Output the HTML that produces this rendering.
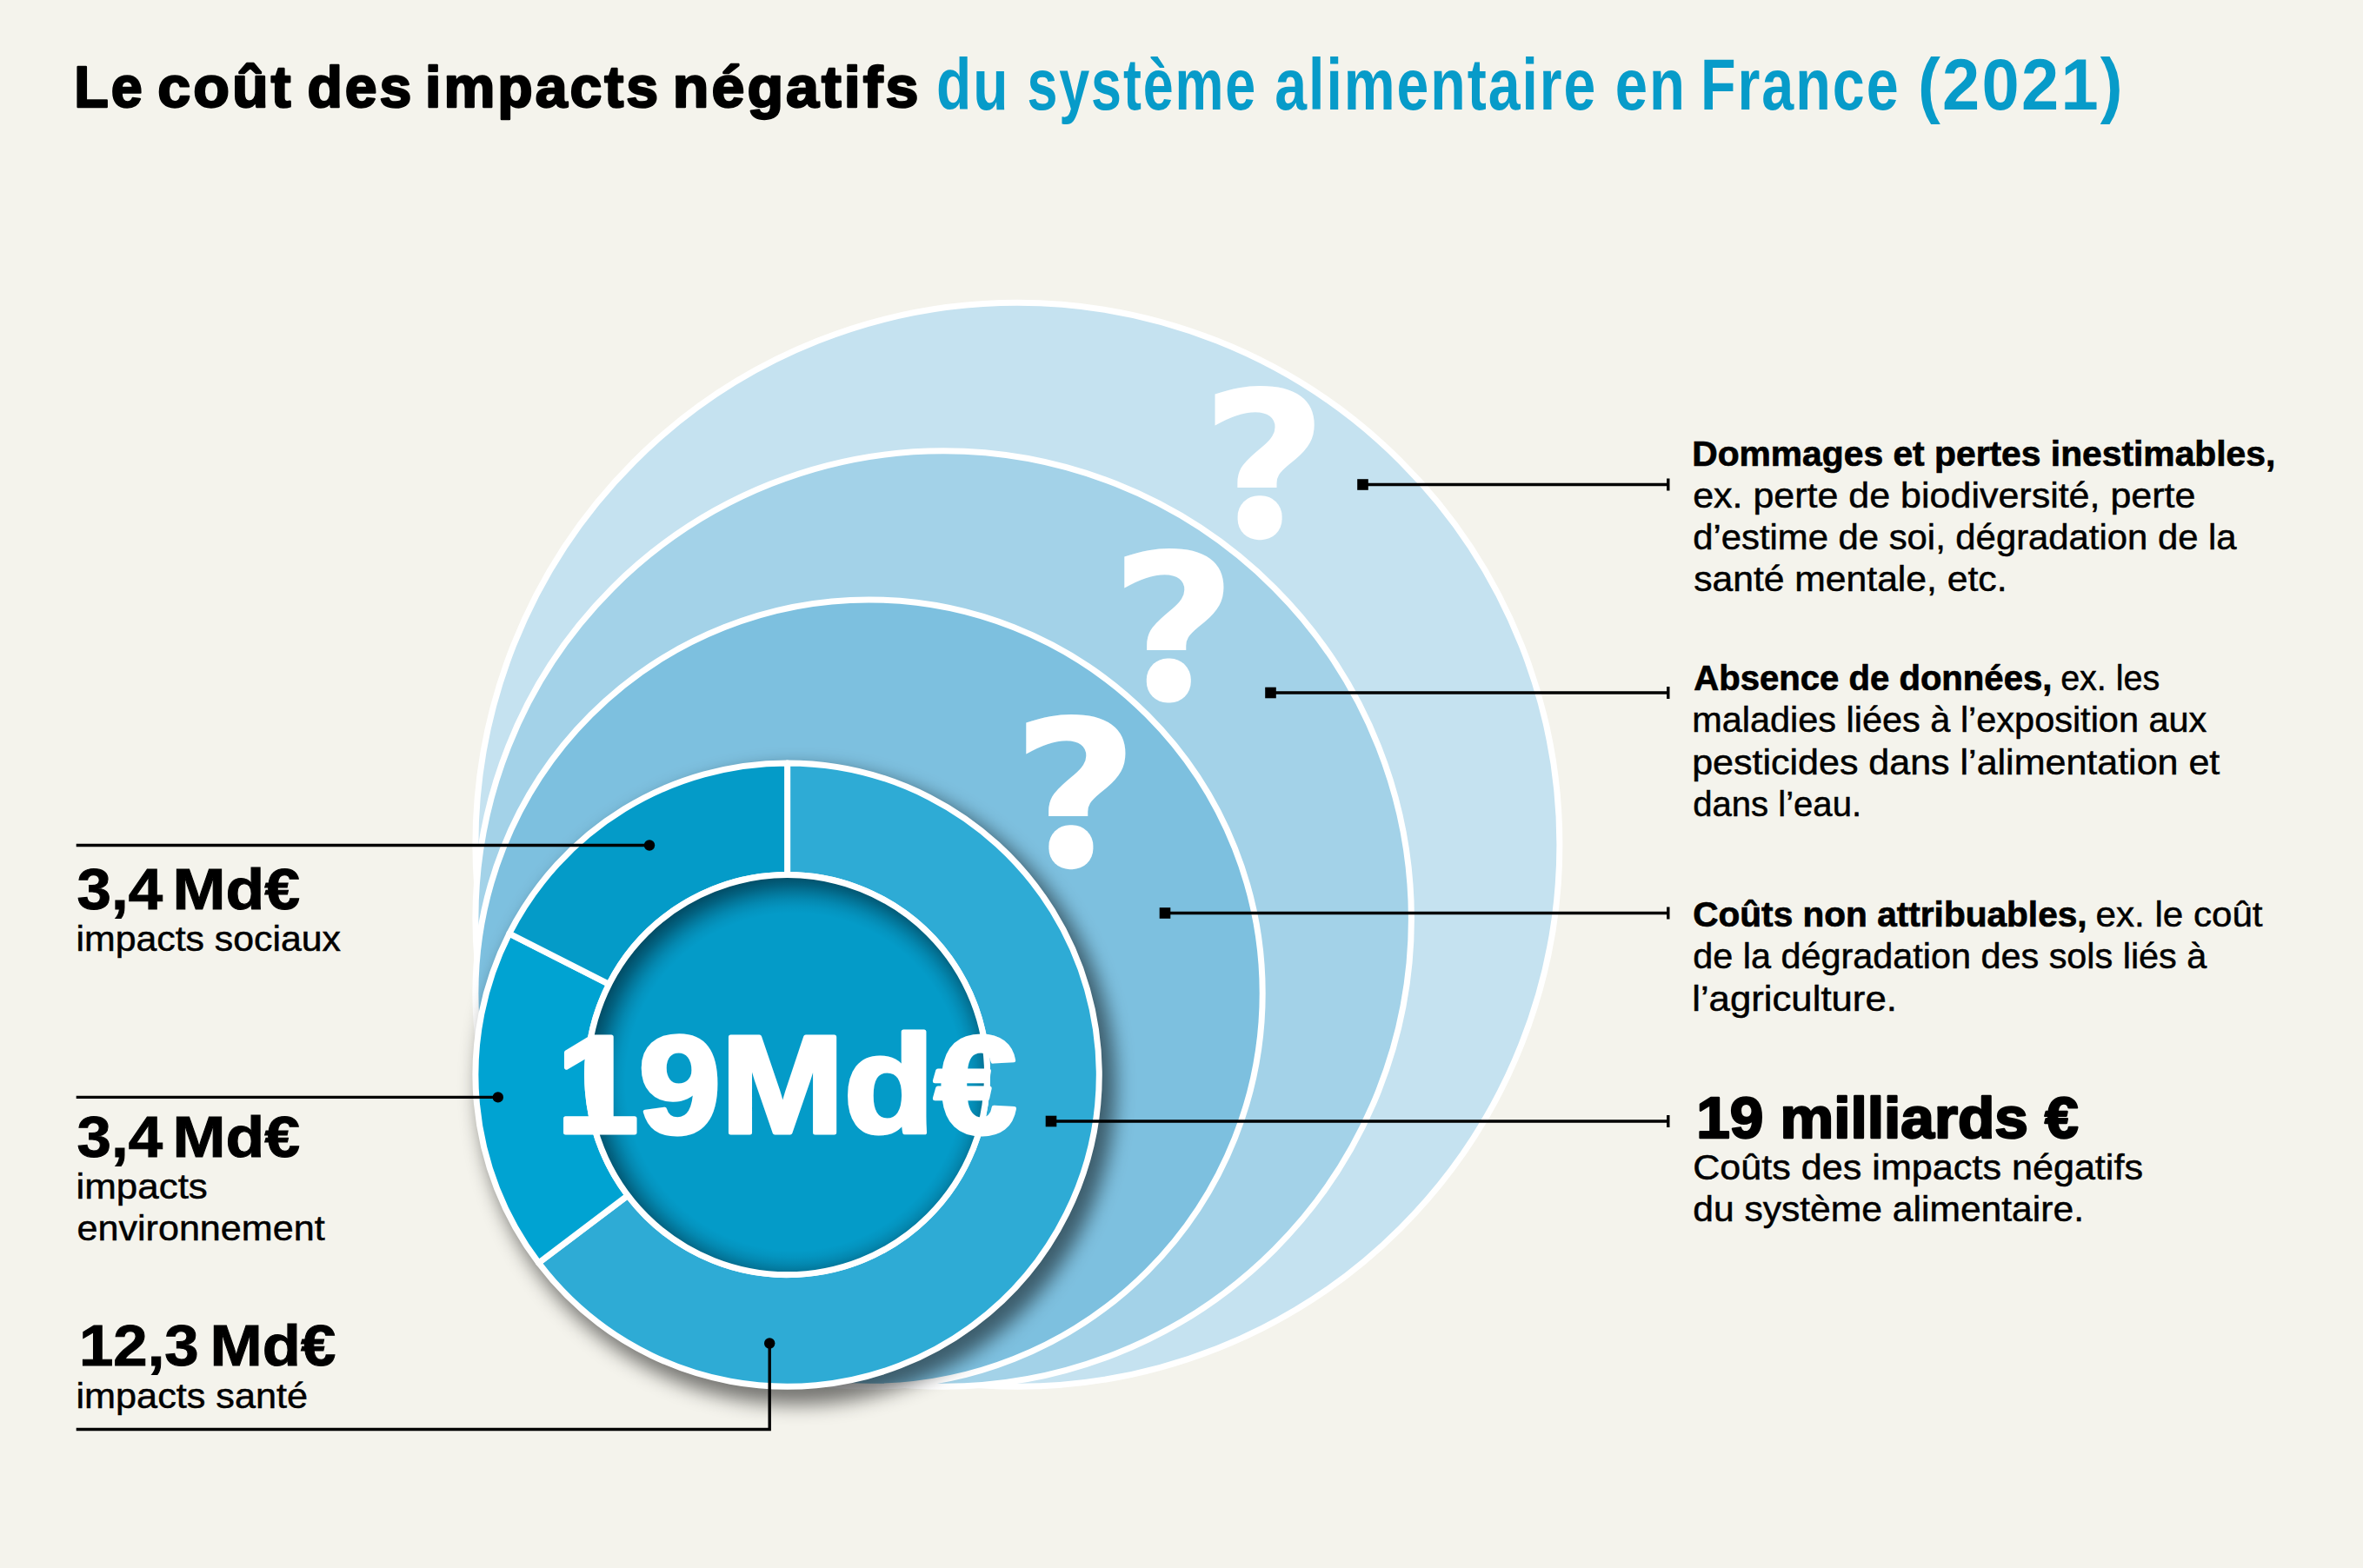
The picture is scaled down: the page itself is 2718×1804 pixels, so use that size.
<!DOCTYPE html>
<html lang="fr"><head><meta charset="utf-8"><title>Le coût des impacts négatifs du système alimentaire en France (2021)</title>
<style>
html,body{margin:0;padding:0;background:#f4f3ec;}
body{width:2718px;height:1804px;overflow:hidden;}
svg{display:block;}
text{font-family:"Liberation Sans",sans-serif;}
.b{font-weight:bold;}
.q{font-family:"DejaVu Sans","Liberation Sans",sans-serif;font-weight:bold;}
</style></head><body>
<svg width="2718" height="1804" viewBox="0 0 2718 1804">
<defs>
<filter id="ds" x="-20%" y="-20%" width="150%" height="150%" color-interpolation-filters="sRGB">
<feGaussianBlur in="SourceAlpha" stdDeviation="11"/>
<feOffset dx="11" dy="13" result="b"/>
<feComponentTransfer><feFuncA type="linear" slope="0.52"/></feComponentTransfer>
</filter>
<radialGradient id="ig" gradientUnits="userSpaceOnUse" cx="913.6" cy="1244.6" r="242">
<stop offset="0" stop-color="#00141f" stop-opacity="0"/>
<stop offset="0.8017" stop-color="#00141f" stop-opacity="0"/>
<stop offset="0.8347" stop-color="#00141f" stop-opacity="0.05"/>
<stop offset="0.8678" stop-color="#00141f" stop-opacity="0.14"/>
<stop offset="0.9008" stop-color="#00141f" stop-opacity="0.27"/>
<stop offset="0.9339" stop-color="#00141f" stop-opacity="0.42"/>
<stop offset="0.9669" stop-color="#00141f" stop-opacity="0.54"/>
<stop offset="1" stop-color="#00141f" stop-opacity="0.62"/>
</radialGradient>
</defs>
<rect width="2718" height="1804" fill="#f4f3ec"/>

<circle cx="1170.4" cy="971.8" r="623.5" fill="#c5e2f0" stroke="#fff" stroke-width="7"/>
<circle cx="1085.15" cy="1057.05" r="538.25" fill="#a3d2e8" stroke="#fff" stroke-width="7"/>
<circle cx="999.55" cy="1142.65" r="452.65" fill="#7dc0df" stroke="#fff" stroke-width="7"/>
<circle cx="905.6" cy="1236.6" r="366.7" fill="#000" filter="url(#ds)"/>
<path d="M905.60 877.90 A358.7 358.7 0 1 1 619.51 1452.97 L722.16 1375.34 A230 230 0 1 0 905.60 1006.60 Z" fill="#2eabd5" stroke="#fff" stroke-width="7" stroke-linejoin="round"/>
<path d="M619.51 1452.97 A358.7 358.7 0 0 1 585.85 1074.03 L700.58 1132.36 A230 230 0 0 0 722.16 1375.34 Z" fill="#00a3d2" stroke="#fff" stroke-width="7" stroke-linejoin="round"/>
<path d="M585.85 1074.03 A358.7 358.7 0 0 1 905.60 877.90 L905.60 1006.60 A230 230 0 0 0 700.58 1132.36 Z" fill="#049bc8" stroke="#fff" stroke-width="7" stroke-linejoin="round"/>
<circle cx="905.6" cy="1236.6" r="230" fill="#049bc8"/>
<circle cx="905.6" cy="1236.6" r="230" fill="url(#ig)"/>
<circle cx="905.6" cy="1236.6" r="230" fill="none" stroke="#fff" stroke-width="7"/>
<clipPath id="qc"><rect x="1380" y="430" width="150" height="138"/><rect x="1275" y="617" width="145" height="140"/><rect x="1160" y="808" width="150" height="140"/></clipPath>
<g clip-path="url(#qc)" fill="#fff">
<text transform="translate(1379.9 618.9) scale(1.065 0.979)" x="0" y="0" class="q" font-size="240">?</text>
<text transform="translate(1275.8 805.7) scale(1.065 0.979)" x="0" y="0" class="q" font-size="240">?</text>
<text transform="translate(1162.8 997.1) scale(1.065 0.979)" x="0" y="0" class="q" font-size="240">?</text>
</g>
<rect x="1423.6" y="570.2" width="51" height="51" rx="24" fill="#fff"/>
<rect x="1318.8" y="757.6" width="51" height="51" rx="24" fill="#fff"/>
<rect x="1206.4" y="949.2" width="51" height="51" rx="24" fill="#fff"/>
<path d="M87.7 972.5 L747 972.5" stroke="#000" stroke-width="3.4" fill="none"/>
<circle cx="747" cy="972.5" r="6.2"/>
<path d="M87.7 1262.4 L572.8 1262.4" stroke="#000" stroke-width="3.4" fill="none"/>
<circle cx="572.8" cy="1262.4" r="6.2"/>
<path d="M87.7 1644.5 L885.2 1644.5 L885.2 1545.5" stroke="#000" stroke-width="3.4" fill="none"/>
<circle cx="885.2" cy="1545.5" r="6.2"/>
<rect x="1561.2" y="551.2" width="12.6" height="12.6"/>
<path d="M1567.5 557.5 L1918.8 557.5" stroke="#000" stroke-width="3.4" fill="none"/>
<path d="M1918.8 550.5 L1918.8 564.5" stroke="#000" stroke-width="3.4" fill="none"/>
<rect x="1455.2" y="790.7" width="12.6" height="12.6"/>
<path d="M1461.5 797 L1918.8 797" stroke="#000" stroke-width="3.4" fill="none"/>
<path d="M1918.8 790 L1918.8 804" stroke="#000" stroke-width="3.4" fill="none"/>
<rect x="1333.7" y="1044.2" width="12.6" height="12.6"/>
<path d="M1340 1050.5 L1918.8 1050.5" stroke="#000" stroke-width="3.4" fill="none"/>
<path d="M1918.8 1043.5 L1918.8 1057.5" stroke="#000" stroke-width="3.4" fill="none"/>
<rect x="1202.7" y="1283.7" width="12.6" height="12.6"/>
<path d="M1209 1290 L1918.8 1290" stroke="#000" stroke-width="3.4" fill="none"/>
<path d="M1918.8 1283 L1918.8 1297" stroke="#000" stroke-width="3.4" fill="none"/>
<text x="85.3" y="122.7" font-size="67" class="b" textLength="81.3" lengthAdjust="spacingAndGlyphs" stroke="#000" stroke-width="2.4" stroke-linejoin="round" letter-spacing="3">Le</text>
<text x="181.3" y="122.7" font-size="67" class="b" textLength="156.3" lengthAdjust="spacingAndGlyphs" stroke="#000" stroke-width="2.4" stroke-linejoin="round" letter-spacing="3">coût</text>
<text x="353.4" y="122.7" font-size="67" class="b" textLength="123.0" lengthAdjust="spacingAndGlyphs" stroke="#000" stroke-width="2.4" stroke-linejoin="round" letter-spacing="3">des</text>
<text x="489.1" y="122.7" font-size="67" class="b" textLength="270.9" lengthAdjust="spacingAndGlyphs" stroke="#000" stroke-width="2.4" stroke-linejoin="round" letter-spacing="3">impacts</text>
<text x="773.7" y="122.7" font-size="67" class="b" textLength="285.9" lengthAdjust="spacingAndGlyphs" stroke="#000" stroke-width="2.4" stroke-linejoin="round" letter-spacing="3">négatifs</text>
<text x="1077.1" y="126" font-size="84" class="b" textLength="84.4" lengthAdjust="spacingAndGlyphs" fill="#079bc9" letter-spacing="2.5">du</text>
<text x="1181.5" y="126" font-size="84" class="b" textLength="264.5" lengthAdjust="spacingAndGlyphs" fill="#079bc9" letter-spacing="2.5">système</text>
<text x="1466.3" y="126" font-size="84" class="b" textLength="371.0" lengthAdjust="spacingAndGlyphs" fill="#079bc9" letter-spacing="2.5">alimentaire</text>
<text x="1857.7" y="126" font-size="84" class="b" textLength="82.3" lengthAdjust="spacingAndGlyphs" fill="#079bc9" letter-spacing="2.5">en</text>
<text x="1955.9" y="126" font-size="84" class="b" textLength="229.7" lengthAdjust="spacingAndGlyphs" fill="#079bc9" letter-spacing="2.5">France</text>
<text x="2205.9" y="126" font-size="84" class="b" textLength="238.1" lengthAdjust="spacingAndGlyphs" fill="#079bc9" letter-spacing="2.5">(2021)</text>
<text x="88.6" y="1046" font-size="66" class="b" textLength="98.4" lengthAdjust="spacingAndGlyphs" stroke="#000" stroke-width="1">3,4</text>
<text x="198.6" y="1046" font-size="66" class="b" textLength="146.5" lengthAdjust="spacingAndGlyphs" stroke="#000" stroke-width="1">Md€</text>
<text x="87.5" y="1093.7" font-size="40" textLength="304.5" lengthAdjust="spacingAndGlyphs" stroke="#000" stroke-width="0.5">impacts sociaux</text>
<text x="88.6" y="1331" font-size="66" class="b" textLength="98.4" lengthAdjust="spacingAndGlyphs" stroke="#000" stroke-width="1">3,4</text>
<text x="198.6" y="1331" font-size="66" class="b" textLength="146.5" lengthAdjust="spacingAndGlyphs" stroke="#000" stroke-width="1">Md€</text>
<text x="87.5" y="1378.5" font-size="40" textLength="151.3" lengthAdjust="spacingAndGlyphs" stroke="#000" stroke-width="0.5">impacts</text>
<text x="88.5" y="1426.5" font-size="40" textLength="285.1" lengthAdjust="spacingAndGlyphs" stroke="#000" stroke-width="0.5">environnement</text>
<text x="91.0" y="1571" font-size="66" class="b" textLength="137.6" lengthAdjust="spacingAndGlyphs" stroke="#000" stroke-width="1">12,3</text>
<text x="241.5" y="1571" font-size="66" class="b" textLength="144.6" lengthAdjust="spacingAndGlyphs" stroke="#000" stroke-width="1">Md€</text>
<text x="87.5" y="1620" font-size="40" textLength="266.5" lengthAdjust="spacingAndGlyphs" stroke="#000" stroke-width="0.5">impacts santé</text>
<text x="1946.2" y="536" font-size="40" class="b" textLength="671.1" lengthAdjust="spacingAndGlyphs" stroke="#000" stroke-width="0.7">Dommages et pertes inestimables,</text>
<text x="1947.2" y="584" font-size="40" textLength="578.2" lengthAdjust="spacingAndGlyphs" stroke="#000" stroke-width="0.5">ex. perte de biodiversité, perte</text>
<text x="1947.2" y="632" font-size="40" textLength="625.4" lengthAdjust="spacingAndGlyphs" stroke="#000" stroke-width="0.5">d’estime de soi, dégradation de la</text>
<text x="1948.2" y="680" font-size="40" textLength="360.3" lengthAdjust="spacingAndGlyphs" stroke="#000" stroke-width="0.5">santé mentale, etc.</text>
<text x="1948.2" y="794" font-size="40" class="b" textLength="412.2" lengthAdjust="spacingAndGlyphs" stroke="#000" stroke-width="0.7">Absence de données,</text>
<text x="2370.2" y="794" font-size="40" textLength="114.0" lengthAdjust="spacingAndGlyphs" stroke="#000" stroke-width="0.5">ex. les</text>
<text x="1946.2" y="842" font-size="40" textLength="592.1" lengthAdjust="spacingAndGlyphs" stroke="#000" stroke-width="0.5">maladies liées à l’exposition aux</text>
<text x="1946.2" y="890.5" font-size="40" textLength="607.1" lengthAdjust="spacingAndGlyphs" stroke="#000" stroke-width="0.5">pesticides dans l’alimentation et</text>
<text x="1947.2" y="938.5" font-size="40" textLength="193.9" lengthAdjust="spacingAndGlyphs" stroke="#000" stroke-width="0.5">dans l’eau.</text>
<text x="1947.2" y="1066" font-size="40" class="b" textLength="453.4" lengthAdjust="spacingAndGlyphs" stroke="#000" stroke-width="0.7">Coûts non attribuables,</text>
<text x="2410.6" y="1066" font-size="40" textLength="191.9" lengthAdjust="spacingAndGlyphs" stroke="#000" stroke-width="0.5">ex. le coût</text>
<text x="1947.2" y="1114" font-size="40" textLength="591.1" lengthAdjust="spacingAndGlyphs" stroke="#000" stroke-width="0.5">de la dégradation des sols liés à</text>
<text x="1946.2" y="1162.5" font-size="40" textLength="235.7" lengthAdjust="spacingAndGlyphs" stroke="#000" stroke-width="0.5">l’agriculture.</text>
<text x="1951.2" y="1309" font-size="66" class="b" textLength="439.5" lengthAdjust="spacingAndGlyphs" stroke="#000" stroke-width="2.4" stroke-linejoin="round">19 milliards €</text>
<text x="1947.2" y="1357" font-size="40" textLength="517.8" lengthAdjust="spacingAndGlyphs" stroke="#000" stroke-width="0.5">Coûts des impacts négatifs</text>
<text x="1947.2" y="1405" font-size="40" textLength="449.8" lengthAdjust="spacingAndGlyphs" stroke="#000" stroke-width="0.5">du système alimentaire.</text>
<text x="640.0" y="1303" font-size="160" class="b" textLength="529.3" lengthAdjust="spacingAndGlyphs" fill="#fff" stroke="#fff" stroke-width="5" stroke-linejoin="round">19Md€</text>
</svg></body></html>
